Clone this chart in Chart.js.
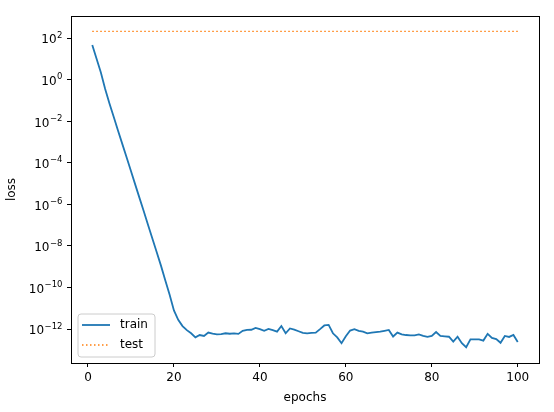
<!DOCTYPE html>
<html>
<head>
<meta charset="utf-8">
<script src="https://cdn.jsdelivr.net/npm/chart.js@4.4.0/dist/chart.umd.min.js"></script>
<style>
  html, body { margin: 0; padding: 0; background: #fff; }
  #wrap { width: 554px; height: 412px; }
</style>
</head>
<body>
<div id="wrap"><canvas id="lossChart" width="554" height="412"></canvas></div>
<script>
// training curves

const epochs = [
  1, 2, 3, 4, 5, 6, 7, 8, 9, 10,
  11, 12, 13, 14, 15, 16, 17, 18, 19, 20,
  21, 22, 23, 24, 25, 26, 27, 28, 29, 30,
  31, 32, 33, 34, 35, 36, 37, 38, 39, 40,
  41, 42, 43, 44, 45, 46, 47, 48, 49, 50,
  51, 52, 53, 54, 55, 56, 57, 58, 59, 60,
  61, 62, 63, 64, 65, 66, 67, 68, 69, 70,
  71, 72, 73, 74, 75, 76, 77, 78, 79, 80,
  81, 82, 83, 84, 85, 86, 87, 88, 89, 90,
  91, 92, 93, 94, 95, 96, 97, 98, 99, 100
];

const trainLoss = [
  46, 10, 2.2, 0.35, 0.071, 0.016, 3.5e-3, 7.9e-4, 1.8e-4, 4.0e-5,
  8.9e-6, 2.0e-6, 4.5e-7, 1.0e-7, 2.2e-8, 5.0e-9, 1.1e-9, 2.2e-10, 4.5e-11, 7.9e-12,
  2.8e-12, 1.4e-12, 8.9e-13, 6.3e-13, 4.0e-13, 5.2e-13, 4.7e-13, 6.8e-13, 6.0e-13, 5.6e-13,
  5.8e-13, 6.3e-13, 6.0e-13, 6.2e-13, 5.9e-13, 8.3e-13, 9.1e-13, 9.3e-13, 1.15e-12, 1.0e-12,
  8.3e-13, 1.02e-12, 8.9e-13, 7.6e-13, 1.41e-12, 6.3e-13, 1.07e-12, 9.5e-13, 7.9e-13, 6.6e-13,
  6.3e-13, 6.6e-13, 6.8e-13, 1.0e-12, 1.5e-12, 1.6e-12, 6.3e-13, 4.0e-13, 2.1e-13, 4.5e-13,
  8.5e-13, 1.0e-12, 8.3e-13, 7.6e-13, 6.3e-13, 6.8e-13, 7.2e-13, 7.6e-13, 8.3e-13, 9.1e-13,
  4.4e-13, 6.8e-13, 5.6e-13, 5.2e-13, 5.0e-13, 5.0e-13, 5.6e-13, 4.7e-13, 4.2e-13, 4.7e-13,
  7.2e-13, 4.7e-13, 4.5e-13, 4.3e-13, 2.5e-13, 4.3e-13, 2.1e-13, 1.35e-13, 3.2e-13, 3.2e-13,
  3.2e-13, 2.8e-13, 5.9e-13, 3.8e-13, 3.3e-13, 2.2e-13, 4.7e-13, 4.2e-13, 5.2e-13, 2.4e-13
];

const testLoss = [
  210, 210, 210, 210, 210, 210, 210, 210, 210, 210,
  210, 210, 210, 210, 210, 210, 210, 210, 210, 210,
  210, 210, 210, 210, 210, 210, 210, 210, 210, 210,
  210, 210, 210, 210, 210, 210, 210, 210, 210, 210,
  210, 210, 210, 210, 210, 210, 210, 210, 210, 210,
  210, 210, 210, 210, 210, 210, 210, 210, 210, 210,
  210, 210, 210, 210, 210, 210, 210, 210, 210, 210,
  210, 210, 210, 210, 210, 210, 210, 210, 210, 210,
  210, 210, 210, 210, 210, 210, 210, 210, 210, 210,
  210, 210, 210, 210, 210, 210, 210, 210, 210, 210
];

const xTicks = [0, 20, 40, 60, 80, 100];
const yTicks = [1e-12, 1e-10, 1e-8, 1e-6, 1e-4, 1e-2, 1, 1e2];

const FONT = 'DejaVu Sans';

// matplotlib style box, 10^n tick labels and legend
const mplExtras = {
  id: 'mplExtras',
  afterDraw(chart) {
    const ctx = chart.ctx;
    const area = chart.chartArea;
    const yScale = chart.scales.y;

    ctx.save();
    ctx.strokeStyle = '#000';
    ctx.lineWidth = 1;
    ctx.strokeRect(Math.round(area.left) + 0.5, Math.round(area.top) + 0.5,
      Math.round(area.right - area.left), Math.round(area.bottom - area.top));

    // y tick labels as 10 with superscript
    ctx.fillStyle = '#000';
    ctx.textBaseline = 'middle';
    ctx.textAlign = 'left';
    yTicks.forEach(v => {
      const py = yScale.getPixelForValue(v);
      const exp = Math.round(Math.log10(v));
      const expText = (exp < 0 ? '\u2212' : '') + Math.abs(exp);
      ctx.font = '12px "' + FONT + '"';
      const wBase = ctx.measureText('10').width;
      ctx.font = '8.5px "' + FONT + '"';
      const wExp = ctx.measureText(expText).width;
      const x0 = 62 - wBase - wExp;
      ctx.font = '12px "' + FONT + '"';
      ctx.fillText('10', x0, py + 2.2);
      ctx.font = '8.5px "' + FONT + '"';
      ctx.fillText(expText, x0 + wBase + 0.5, py - 2.6);
    });

    // legend
    const lx = 78, ly = 314, lw = 77, lh = 43, r = 3;
    ctx.beginPath();
    ctx.moveTo(lx + r, ly);
    ctx.arcTo(lx + lw, ly, lx + lw, ly + lh, r);
    ctx.arcTo(lx + lw, ly + lh, lx, ly + lh, r);
    ctx.arcTo(lx, ly + lh, lx, ly, r);
    ctx.arcTo(lx, ly, lx + lw, ly, r);
    ctx.closePath();
    ctx.fillStyle = 'rgba(255,255,255,0.8)';
    ctx.fill();
    ctx.strokeStyle = '#cccccc';
    ctx.stroke();

    chart.data.datasets.forEach((ds, i) => {
      const rowY = 325 + i * 20;
      ctx.beginPath();
      ctx.strokeStyle = ds.borderColor;
      ctx.lineWidth = ds.borderWidth;
      ctx.setLineDash(ds.borderDash || []);
      ctx.moveTo(82, rowY);
      ctx.lineTo(110, rowY);
      ctx.stroke();
      ctx.setLineDash([]);
      ctx.fillStyle = '#000';
      ctx.font = '12px "' + FONT + '"';
      ctx.textBaseline = 'middle';
      ctx.fillText(ds.label, 120, rowY);
    });
    ctx.restore();
  }
};

const tickGrid = { display: true, drawOnChartArea: false, drawTicks: true, tickLength: 4, color: '#000', lineWidth: 1 };

const ctx = document.getElementById('lossChart').getContext('2d');
const lossChart = new Chart(ctx, {
  type: 'line',
  data: {
    datasets: [
      {
        label: 'train',
        data: epochs.map((e, i) => ({ x: e, y: trainLoss[i] })),
        borderColor: '#1f77b4',
        borderWidth: 1.8,
        pointRadius: 0,
        tension: 0,
        fill: false
      },
      {
        label: 'test',
        data: epochs.map((e, i) => ({ x: e, y: testLoss[i] })),
        borderColor: '#ff7f0e',
        borderWidth: 1.4,
        borderDash: [1.5, 2.5],
        pointRadius: 0,
        tension: 0,
        fill: false
      }
    ]
  },
  options: {
    responsive: false,
    animation: false,
    layout: { padding: { left: 0, right: 15, top: 16, bottom: 0 } },
    plugins: {
      legend: { display: false },
      tooltip: { enabled: false }
    },
    scales: {
      x: {
        type: 'linear',
        min: -3.95,
        max: 104.95,
        afterBuildTicks: s => { s.ticks = xTicks.map(v => ({ value: v })); },
        afterFit: s => { s.height = 49; },
        grid: tickGrid,
        border: { display: true, color: '#000', width: 1 },
        ticks: { color: '#000', font: { family: FONT, size: 12 }, padding: 4, maxRotation: 0, autoSkip: false },
        title: { display: true, text: 'epochs', color: '#000', font: { family: FONT, size: 12 }, padding: { top: 0, bottom: 7 } }
      },
      y: {
        type: 'logarithmic',
        min: Math.pow(10, -13.63),
        max: Math.pow(10, 3.06),
        afterBuildTicks: s => { s.ticks = yTicks.map(v => ({ value: v })); },
        afterFit: s => { s.width = 71; },
        grid: tickGrid,
        border: { display: true, color: '#000', width: 1 },
        ticks: { callback: () => '', autoSkip: false },
        title: { display: true, text: 'loss', color: '#000', font: { family: FONT, size: 12 }, padding: { top: 5, bottom: 0 } }
      }
    }
  },
  plugins: [mplExtras]
});
</script>
</body>
</html>
